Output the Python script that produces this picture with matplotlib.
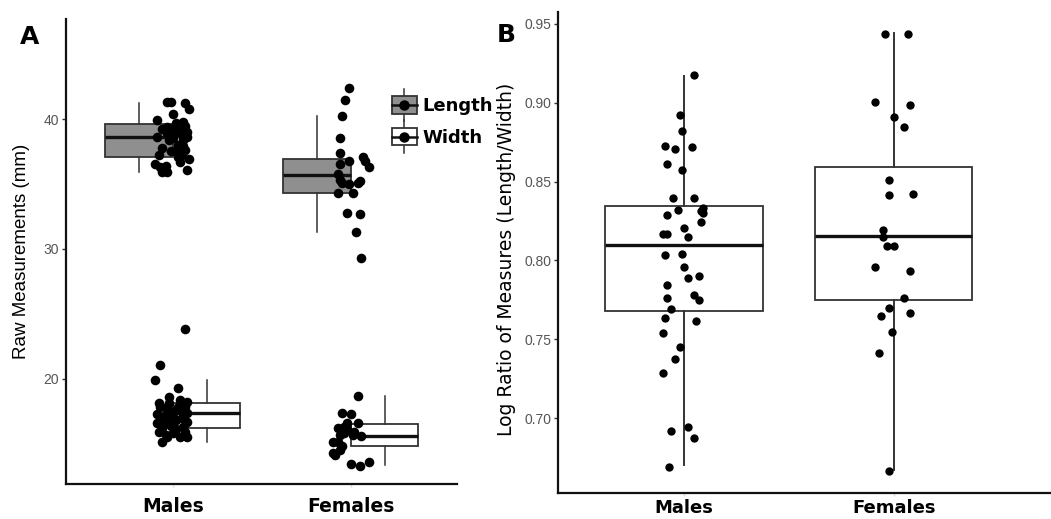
import numpy as np
import matplotlib
matplotlib.use("Agg")
import matplotlib.pyplot as plt
from matplotlib.legend_handler import HandlerBase
from matplotlib.patches import Rectangle
from matplotlib.lines import Line2D

# ---------------- data ----------------
groups = ["Males", "Females"]

# Panel A raw measurements (mm)
male_length = [41.3, 41.3, 41.2, 40.8, 40.4, 39.9, 39.8, 39.4, 39.2, 39.3,
               39.0, 39.5, 38.6, 38.5, 38.6, 38.8, 38.4, 38.0, 37.8, 37.9,
               37.2, 37.2, 36.9, 36.7, 36.5, 36.4, 36.3, 35.9, 35.9, 36.1,
               38.9, 38.9, 39.7, 37.5, 37.6, 39.2, 38.4, 37.1, 37.5, 39.0]
male_length_jit = [-0.03, -0.01, 0.07, 0.09, 0.0, -0.09, 0.06, -0.03, -0.06, 0.02,
                   0.04, 0.07, -0.09, 0.0, 0.08, 0.05, -0.02, 0.03, -0.06, 0.06,
                   -0.08, 0.05, 0.09, 0.04, -0.10, -0.04, -0.07, -0.06, -0.03, 0.08,
                   0.01, -0.03, 0.02, 0.02, 0.07, -0.01, 0.06, 0.03, -0.01, 0.08]
male_width = [23.8, 21.1, 19.9, 19.3, 18.15, 18.6, 18.2, 18.4, 17.3, 17.8,
              17.5, 17.8, 17.1, 17.0, 16.7, 15.9, 16.4, 16.2, 16.3, 16.1,
              15.5, 15.15, 15.5, 15.8, 15.5,
              17.8, 17.4, 17.1, 17.8, 17.4, 16.6, 16.6, 17.5, 16.7, 15.9,
              16.8, 16.8, 18.15, 17.8, 15.7]
male_width_jit = [0.07, -0.07, -0.10, 0.03, -0.08, -0.02, 0.08, 0.04, -0.09, -0.03,
                  0.01, 0.07, -0.05, 0.05, 0.08, -0.08, -0.01, -0.06, 0.06, 0.02,
                  0.08, -0.06, -0.03, 0.0, 0.04,
                  -0.07, -0.03, -0.01, 0.03, 0.08, -0.09, 0.0, 0.05, -0.03, 0.07,
                  -0.06, 0.02, -0.02, 0.06, -0.04]
female_length = [42.4, 41.5, 40.2, 38.5, 37.4, 37.1, 36.8, 36.3, 36.8, 36.5,
                 35.8, 35.3, 35.1, 35.1, 35.2, 35.0, 34.3, 34.3, 32.8, 32.7,
                 31.3, 29.3]
female_length_jit = [-0.01, -0.03, -0.05, -0.06, -0.06, 0.07, 0.08, 0.10, -0.01, -0.06,
                     -0.07, -0.06, -0.05, 0.04, 0.05, -0.01, -0.07, 0.01, -0.02, 0.05,
                     0.03, 0.06]
female_width = [18.7, 17.4, 17.3, 16.6, 16.6, 16.2, 16.3, 15.7, 15.6, 15.7,
                15.85, 15.15, 15.1, 14.8, 14.55, 14.15, 14.3, 13.45, 13.3, 13.6,
                16.1, 15.9]
female_width_jit = [0.04, -0.05, 0.0, -0.02, 0.04, -0.07, -0.04, -0.06, 0.06, 0.01,
                    -0.04, -0.10, -0.07, -0.05, -0.06, -0.09, -0.10, 0.0, 0.05, 0.10,
                    -0.02, 0.02]

# box statistics: (whislo, q1, med, q3, whishi)
length_box = {"Males": (35.9, 37.1, 38.6, 39.6, 41.2),
              "Females": (31.3, 34.3, 35.7, 36.9, 40.2)}
width_box = {"Males": (15.15, 16.2, 17.4, 18.15, 19.9),
             "Females": (13.4, 14.85, 15.6, 16.5, 18.7)}

# Panel B log ratio
male_ratio = [0.9175, 0.892, 0.8823, 0.8724, 0.871, 0.8722, 0.861, 0.8576, 0.8399, 0.8399,
              0.832, 0.8312, 0.833, 0.8302, 0.829, 0.8245, 0.8209, 0.8165, 0.817, 0.815,
              0.8037, 0.8041,
              0.7961, 0.7891, 0.7904, 0.7843, 0.7761, 0.778, 0.7748, 0.7695, 0.7632, 0.7619,
              0.7541, 0.7452, 0.7378, 0.7283, 0.692, 0.6945, 0.6875, 0.6691]
male_ratio_jit = [0.05, -0.02, -0.01, -0.09, -0.04, 0.04, -0.08, -0.01, -0.05, 0.05,
                  -0.03, 0.08, 0.09, 0.09, -0.08, 0.08, 0.0, -0.10, -0.08, 0.02,
                  -0.09, -0.01,
                  0.0, 0.02, 0.07, -0.08, -0.08, 0.05, 0.07, -0.06, -0.09, 0.06,
                  -0.10, -0.02, -0.04, -0.10, -0.06, 0.02, 0.05, -0.07]
female_ratio = [0.9439, 0.9435, 0.9008, 0.8985, 0.891, 0.8844, 0.8508, 0.8418, 0.8422, 0.8193,
                0.8147, 0.8091, 0.8091,
                0.7961, 0.7934, 0.7765, 0.77, 0.7647, 0.7664, 0.7546, 0.7415, 0.6667]
female_ratio_jit = [-0.04, 0.07, -0.09, 0.08, 0.0, 0.05, -0.02, -0.02, 0.09, -0.05,
                    -0.05, -0.03, 0.0,
                    -0.09, 0.08, 0.05, -0.02, -0.06, 0.08, -0.01, -0.07, -0.02]
ratio_box = {"Males": (0.670, 0.768, 0.8098, 0.8345, 0.9167),
             "Females": (0.667, 0.775, 0.8155, 0.859, 0.944)}

a_yticks = [20, 30, 40]
b_yticks = [0.70, 0.75, 0.80, 0.85, 0.90, 0.95]

# ---------------- style ----------------
GRAY_FILL = "#8f8f8f"
EDGE = "#333333"
TICK_GRAY = "#555555"

fig = plt.figure(figsize=(10.51, 5.19), dpi=100)
W, H = 1051, 519


def px_axes(l, r, t, b):
    return fig.add_axes([l / W, 1 - b / H, (r - l) / W, (b - t) / H])


def stats(vals, label=""):
    lo, q1, med, q3, hi = vals
    return dict(whislo=lo, q1=q1, med=med, q3=q3, whishi=hi, fliers=[], label=label)


def style_axes(ax, yticks, fmt, xpad, xsize):
    for s in ["top", "right"]:
        ax.spines[s].set_visible(False)
    for s in ["left", "bottom"]:
        ax.spines[s].set_linewidth(1.6)
        ax.spines[s].set_color("#111111")
    ax.set_yticks(yticks)
    ax.set_yticklabels([fmt.format(v) for v in yticks], fontsize=10,
                       color=TICK_GRAY, family="Liberation Sans")
    ax.set_xticks([1, 2])
    ax.set_xticklabels(groups, fontsize=xsize, fontweight="bold", family="DejaVu Sans")
    ax.tick_params(axis="y", length=3, width=1, color="#333333", pad=2)
    ax.tick_params(axis="x", length=2, width=1, color="#dddddd", pad=xpad)


# ---------------- Panel A ----------------
axA = px_axes(66, 457.5, 19, 484)
pos = {"Males": 1, "Females": 2}
boxprops = dict(linewidth=1.3, edgecolor=EDGE)
lineprops = dict(linewidth=1.1, color=EDGE)
medprops = dict(linewidth=2.4, color="#111111")
for g in groups:
    axA.bxp([stats(length_box[g])], positions=[pos[g] - 0.19], widths=0.38,
            patch_artist=True, showcaps=False,
            boxprops=dict(facecolor=GRAY_FILL, **boxprops),
            whiskerprops=lineprops, medianprops=medprops, zorder=2)
    axA.bxp([stats(width_box[g])], positions=[pos[g] + 0.19], widths=0.38,
            patch_artist=True, showcaps=False,
            boxprops=dict(facecolor="white", **boxprops),
            whiskerprops=lineprops, medianprops=medprops, zorder=2)

dot_kw = dict(s=48, color="black", zorder=3, linewidths=0)
axA.scatter(1 + np.array(male_length_jit), male_length, **dot_kw)
axA.scatter(1 + np.array(male_width_jit), male_width, **dot_kw)
axA.scatter(2 + np.array(female_length_jit), female_length, **dot_kw)
axA.scatter(2 + np.array(female_width_jit), female_width, **dot_kw)

axA.set_xlim(0.4, 2.6)
axA.set_ylim(11.9, 47.7)
style_axes(axA, a_yticks, "{:.0f}", 7, 13.5)
axA.set_ylabel("Raw Measurements (mm)", fontsize=13.5, family="Liberation Sans",
               labelpad=10)


class BoxDotHandler(HandlerBase):
    def __init__(self, fill):
        super().__init__()
        self.fill = fill

    def create_artists(self, legend, orig_handle, xdescent, ydescent, width,
                       height, fontsize, trans):
        cx = width / 2 - xdescent
        cy = height / 2 - ydescent
        bw, bh = width * 1.0, height * 0.78
        vline = Line2D([cx, cx], [cy - height * 0.72, cy + height * 0.72],
                       color=EDGE, lw=1.1, transform=trans)
        rect = Rectangle((cx - bw / 2, cy - bh / 2), bw, bh, facecolor=self.fill,
                         edgecolor=EDGE, lw=1.3, transform=trans)
        med = Line2D([cx - bw / 2, cx + bw / 2], [cy, cy], color="#111111",
                     lw=1.8, transform=trans)
        dot = Line2D([cx], [cy], marker="o", markersize=6.5, color="black",
                     lw=0, transform=trans)
        return [vline, rect, med, dot]


h_len = Rectangle((0, 0), 1, 1)
h_wid = Rectangle((0, 0), 1, 1)
leg = axA.legend([h_len, h_wid], ["Length", "Width"],
                 handler_map={h_len: BoxDotHandler(GRAY_FILL),
                              h_wid: BoxDotHandler("white")},
                 loc="upper left", bbox_to_anchor=(0.815, 0.855), frameon=False,
                 handlelength=1.35, handleheight=1.55, handletextpad=0.3,
                 labelspacing=0.5, borderaxespad=0,
                 prop=dict(family="DejaVu Sans", weight="bold", size=13))

fig.text(20 / W, 1 - 44 / H, "A", fontsize=18, fontweight="bold",
         family="DejaVu Sans")

# ---------------- Panel B ----------------
axB = px_axes(558, 1051, 12, 493)
for g, vals in ratio_box.items():
    axB.bxp([stats(vals)], positions=[pos[g]], widths=0.75, patch_artist=True,
            showcaps=False, boxprops=dict(facecolor="white", **boxprops),
            whiskerprops=dict(linewidth=1.4, color=EDGE), medianprops=medprops,
            zorder=2)
dotB = dict(s=36, color="black", zorder=3, linewidths=0)
axB.scatter(1 + np.array(male_ratio_jit), male_ratio, **dotB)
axB.scatter(2 + np.array(female_ratio_jit), female_ratio, **dotB)
axB.set_xlim(0.4, 2.75)
axB.set_ylim(0.6525, 0.9576)
style_axes(axB, b_yticks, "{:.2f}", 2, 13)
axB.set_ylabel("Log Ratio of Measures (Length/Width)", fontsize=13.5,
               family="DejaVu Sans", labelpad=5)
axB.yaxis.set_label_coords(-0.085, 0.485)

fig.text(497 / W, 1 - 42 / H, "B", fontsize=18, fontweight="bold",
         family="DejaVu Sans")

fig.savefig("out.png", dpi=100)
